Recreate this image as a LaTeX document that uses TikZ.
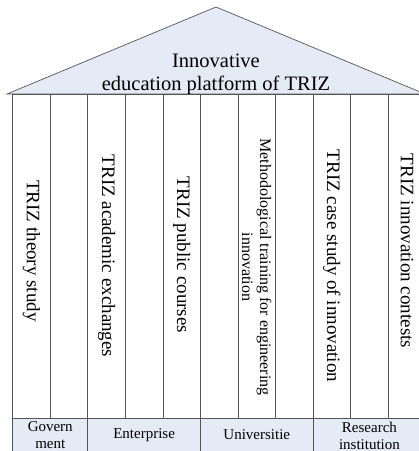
\documentclass[tikz,border=0pt]{standalone}
\usepackage{fontspec}
\setmainfont{Liberation Serif}
\definecolor{roofblue}{RGB}{228,234,246}
\definecolor{linegray}{RGB}{85,85,85}
\begin{document}
\begin{tikzpicture}[x=1pt,y=-1pt,line width=0.7pt,draw=linegray,
    pillar/.style={rotate=-90,font=\fontsize{19}{21}\selectfont,inner sep=0pt},
    baselabel/.style={align=center,font=\fontsize{15}{17}\selectfont,inner sep=0pt}]
  \def\colw{37.55}
  \def\pillartop{94}
  \def\pillarbot{418}
  \useasboundingbox (0,0) rectangle (419,451);
  \clip (0,0) rectangle (419,451);
  % roof
  \filldraw[fill=roofblue] (7,94) -- (216,7) -- (425,94) -- cycle;
  \node[align=center,font=\fontsize{20.5}{23}\selectfont] (roof) at (216,74)
    {Innovative\\education platform of TRIZ};
  % pillars
  \foreach \i in {0,...,10}
    \draw ({12.7+\i*\colw},\pillartop) rectangle ({12.7+(\i+1)*\colw},\pillarbot);
  \foreach \i/\y/\txt in {0/251/TRIZ theory study,2/256/TRIZ academic exchanges,
      4/255/TRIZ public courses,8/266/TRIZ case study of innovation,
      10/251/TRIZ innovation contests}
    \node[pillar] (col\i) at ({12.7+(\i+0.5)*\colw},\y) {\txt};
  \node[pillar,align=center,font=\fontsize{16}{18}\selectfont] (col6)
    at ({12.7+6.5*\colw},267) {Methodological training for engineering\\innovation};
  % base
  \filldraw[fill=roofblue] (12.7,\pillarbot) rectangle (440,470);
  \foreach \i in {2,5,8}
    \draw ({12.7+\i*\colw},\pillarbot) -- ({12.7+\i*\colw},470);
  \node[baselabel] (gov) at ({12.7+1*\colw},435.5) {Govern\\ment};
  \node[baselabel] (ent) at ({12.7+3.5*\colw},435) {Enterprise};
  \node[baselabel] (uni) at ({12.7+6.5*\colw},435) {Universitie};
  \node[baselabel] (res) at ({12.7+9.5*\colw},435.5) {Research\\institution};
\end{tikzpicture}
\end{document}
